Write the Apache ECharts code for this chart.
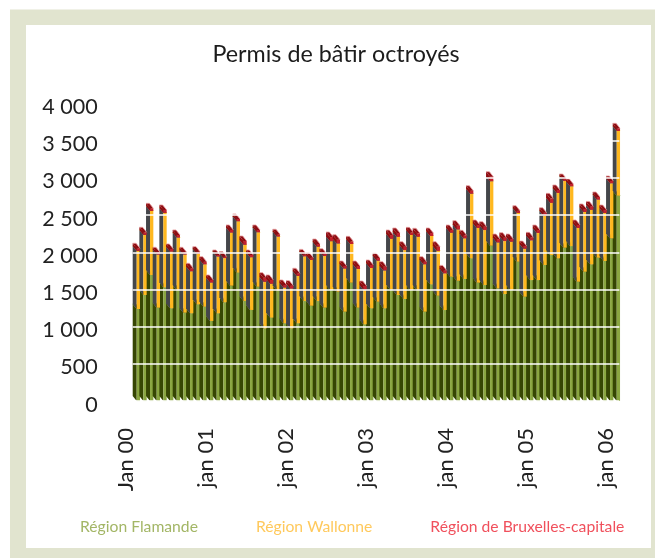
<!DOCTYPE html>
<html><head><meta charset="utf-8">
<style>html,body{margin:0;padding:0;background:#fff}#c{width:655px;height:558px}</style>
<script src="https://cdn.jsdelivr.net/npm/echarts@6/dist/echarts.min.js"></script>
</head><body><div id="c"></div>
<script>
const chartTitle = "Permis de bâtir octroyés";
const seriesNames = ["Région Flamande", "Région Wallonne", "Région de Bruxelles-capitale"];
const monthLabels = ["Jan 00","","","","","","","","","","","",
"jan 01","","","","","","","","","","","",
"jan 02","","","","","","","","","","","",
"jan 03","","","","","","","","","","","",
"jan 04","","","","","","","","","","","",
"jan 05","","","","","","","","","","","",
"jan 06"];
const flamande = [1238,1426,1695,1256,1529,1247,1494,1189,1180,1301,1270,1077,
1180,1328,1552,1727,1346,1225,1538,978,1122,1489,1046,978,
1046,1345,1282,1345,1256,1493,1471,1202,1592,1256,1032,1247,
1336,1247,1502,1426,1372,1493,1493,1202,1569,1417,1224,1672,
1618,1641,1919,1592,1560,2089,1515,1439,1493,1874,1403,1627,
1627,1829,1963,1919,2062,2084,1605,1739,1838,1928,1883,2187,
2761];
const wallonne = [781,808,861,714,1000,763,704,781,565,678,569,516,
764,594,713,691,756,709,732,626,456,723,480,534,
637,602,616,731,695,657,648,579,520,520,465,542,
552,510,680,783,658,740,717,637,650,603,493,592,
690,547,869,735,739,867,618,712,650,655,646,534,
632,663,702,878,898,804,722,803,734,780,645,741,
870];
const bruxelles = [35,35,35,30,40,35,35,30,40,30,35,35,
20,20,35,30,50,30,30,55,50,30,35,40,
35,25,30,35,30,55,50,35,35,40,50,40,
35,50,50,50,45,35,45,35,40,55,40,35,
50,40,40,40,45,60,45,45,35,30,35,40,
40,40,60,40,25,30,40,40,45,35,40,30,
35];
const yTicks = {0:"0",500:"500",1000:"1 000",1500:"1 500",2000:"2 000",2500:"2 500",3000:"3 000",3500:"3 500",4000:"4 000"};

const faces = [
  {side:"#364603", front:"#8aa640", top:"#3f5208", edge:"#8aa640"},
  {side:"#44464a", front:"#ffb81f", top:"#44464a", edge:"#ffb81f"},
  {side:"#8e0b12", front:"#c4202c", top:"#8e0b12", edge:"#e8a0a0"}
];
const SIDE = 4, FRONT = 3.3, RISE = 5;

function layer(values, below, face) {
  return function (params, api) {
    const i = api.value(0);
    const base = below[i], val = values[i];
    const lo = api.coord([i, base]);
    const hi = api.coord([i, base + val]);
    const band = api.size([1, 0])[0];
    const x0 = lo[0] - band / 2, x1 = x0 + SIDE, x2 = x1 + FRONT;
    const yl = lo[1], yh = hi[1];
    return {type: "group", children: [
      {type:"polygon", shape:{points:[[x0,yl-RISE],[x1,yl],[x1,yh],[x0,yh-RISE]]}, style:{fill:face.side}},
      {type:"polygon", shape:{points:[[x1,yl],[x2,yl],[x2,yh],[x1,yh]]}, style:{fill:face.front}},
      {type:"polygon", shape:{points:[[x0,yh-RISE],[x0+FRONT,yh-RISE],[x2,yh],[x1,yh]]}, style:{fill:face.top}},
      {type:"polyline", shape:{points:[[x0,yh-RISE],[x0+FRONT,yh-RISE],[x2,yh]]}, style:{fill:"none",stroke:face.edge,lineWidth:0.8}}
    ]};
  };
}
const zeros = flamande.map(() => 0);
const belowW = flamande;
const belowB = flamande.map((v, i) => v + wallonne[i]);

const chart = echarts.init(document.getElementById("c"), null, {renderer:"canvas"});
const FONT = "Lato";
chart.setOption({
  animation:false,
  backgroundColor:"#ffffff",
  graphic:[
    {type:"rect", z:-10, silent:true, shape:{x:10,y:9.5,width:645,height:548.5}, style:{fill:"#e1e4cf"}},
    {type:"rect", z:-9, silent:true, shape:{x:26,y:25,width:625,height:523}, style:{fill:"#ffffff"}}
  ],
  title:{text:chartTitle, left:331, top:38, textAlign:"center",
    textStyle:{fontFamily:FONT,fontWeight:"normal",fontSize:23.3,color:"#1c1c1c"}},
  legend:{
    left:70, top:514, icon:"none", itemWidth:0, itemHeight:0, itemGap:53, selectedMode:false,
    data:[
      {name:seriesNames[0], textStyle:{color:"#a3b666"}},
      {name:seriesNames[1], textStyle:{color:"#ffc95c"}},
      {name:seriesNames[2], textStyle:{color:"#f0505c"}}
    ],
    textStyle:{fontFamily:FONT,fontSize:15.7}
  },
  grid:{left:132.7, right:35.6, top:103.5, bottom:156.9, containLabel:false},
  xAxis:{type:"category", data:monthLabels, boundaryGap:true,
    axisLine:{show:false}, axisTick:{show:false}, splitLine:{show:false},
    axisLabel:{interval:11, rotate:90, margin:27, verticalAlign:"bottom", lineHeight:20, fontFamily:FONT, fontSize:22, color:"#222222", hideOverlap:false}
  },
  yAxis:{type:"value", min:0, max:4000, interval:500, z:6,
    axisLine:{show:false}, axisTick:{show:false},
    splitLine:{show:true, lineStyle:{color:"#ffffff", width:1.6}},
    axisLabel:{margin:35, verticalAlign:"top", lineHeight:7, fontFamily:FONT, fontSize:21.5, color:"#222222", formatter:v => yTicks[v]}
  },
  series:[
    {name:seriesNames[0], type:"custom", clip:false, data:flamande.map((v,i)=>[i,v]), renderItem:layer(flamande, zeros, faces[0]), encode:{x:0,y:1}},
    {name:seriesNames[1], type:"custom", clip:false, data:wallonne.map((v,i)=>[i,v]), renderItem:layer(wallonne, belowW, faces[1]), encode:{x:0,y:1}},
    {name:seriesNames[2], type:"custom", clip:false, data:bruxelles.map((v,i)=>[i,v]), renderItem:layer(bruxelles, belowB, faces[2]), encode:{x:0,y:1}}
  ]
});
</script></body></html>
